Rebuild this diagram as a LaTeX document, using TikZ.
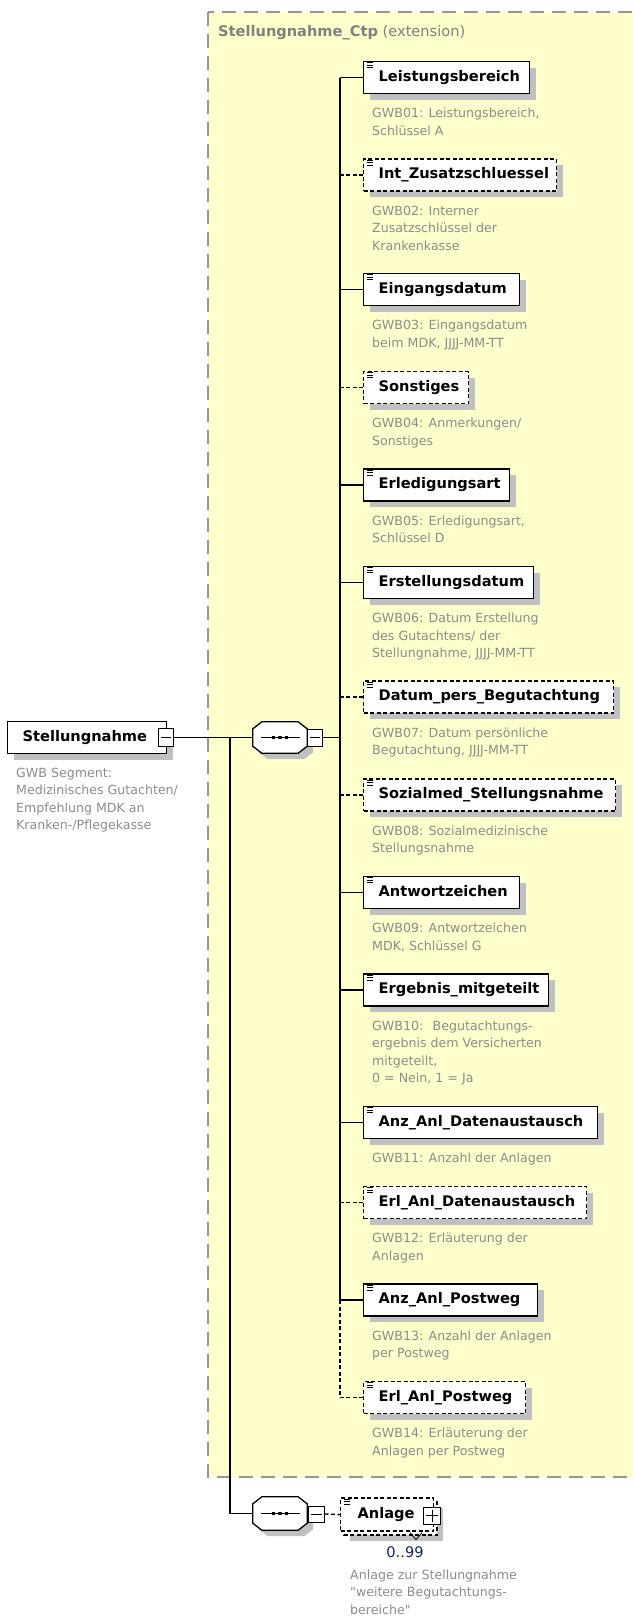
\documentclass[tikz,border=0pt]{standalone}
\usepackage{fontspec}
\setmainfont{DejaVu Sans}[Ligatures=TeXOff]
\usetikzlibrary{shadows}
\definecolor{ctyellow}{RGB}{255,255,204}
\definecolor{ctborder}{RGB}{150,150,150}
\definecolor{shadowgray}{RGB}{192,192,192}
\definecolor{descgray}{RGB}{140,140,140}
\definecolor{titlegray}{RGB}{128,128,128}
\definecolor{occblue}{RGB}{25,35,80}
\newcommand\elemfont{\fontsize{14.6}{17}\selectfont\bfseries}
\newcommand\descfont{\fontsize{12.6}{17.6}\selectfont}
\tikzset{
  conn/.style={line width=1.3pt, draw=black},
  optconn/.style={conn, dash pattern=on 4pt off 2.5pt},
  shadowed/.style={drop shadow={shadow xshift=6pt, shadow yshift=-6pt, fill=shadowgray, opacity=1}},
  plainbox/.style={draw=black, line width=1.3pt, fill=white, inner sep=0pt, minimum height=32pt, anchor=west, font=\elemfont},
  elembox/.style={plainbox, shadowed},
  optbox/.style={elembox, dash pattern=on 4pt off 2.5pt},
  iconline/.style={line width=0.8pt, draw=black},
  desc/.style={anchor=north west, inner sep=0pt, align=left, font=\descfont, text=descgray},
  pmbox/.style={draw=black, line width=1pt, fill=white, inner sep=0pt, minimum width=15pt, minimum height=17pt},
  pmsign/.style={line width=1pt, draw=black},
  seqbox/.style={inner sep=0pt, minimum width=54pt, minimum height=31pt},
  seqline/.style={draw=black, line width=1.3pt, fill=white},
  seqshadow/.style={fill=shadowgray},
  ctbox/.style={fill=ctyellow, draw=ctborder, line width=1.3pt, dash pattern=on 14pt off 8pt},
}
% octagon around a node: #1 node, #2 dx, #3 dy
\newcommand\octpath[3]{([shift={(#2+9,#3)}]#1.north west) -- ([shift={(#2-9,#3)}]#1.north east) -- ([shift={(#2,#3+7)}]#1.north east) -- ([shift={(#2,#3-7)}]#1.south east) -- ([shift={(#2-9,#3)}]#1.south east) -- ([shift={(#2+9,#3)}]#1.south west) -- ([shift={(#2,#3-7)}]#1.south west) -- ([shift={(#2,#3+7)}]#1.north west) -- cycle}
\newcommand\seqinside[1]{%
  \draw[line width=1pt] ([xshift=-19pt]#1.center) -- ([xshift=20pt]#1.center);
  \fill ([shift={(-8,-1.7)}]#1.center) rectangle ++(3.4,3.4);
  \fill ([shift={(-1.7,-1.7)}]#1.center) rectangle ++(3.4,3.4);
  \fill ([shift={(4.6,-1.7)}]#1.center) rectangle ++(3.4,3.4);
}
\newcommand\elemrow[6]{%
  \node[#4] (#1) at (363,#2) {\makebox[#3pt][l]{\hspace*{15pt}\vphantom{Lg}#5}};
  \draw[iconline] ([shift={(4,2)}]#1.north west) -- ++(6,0)
                  ([shift={(4,4.5)}]#1.north west) -- ++(6,0)
                  ([shift={(4,7)}]#1.north west) -- ++(6,0);
  \node[desc] (#1d) at (372,#2+27.5) {\strut #6};
}
\begin{document}
\begin{tikzpicture}[x=1pt,y=-1pt]
\useasboundingbox (0,0) rectangle (633,1617);
\clip (0,0) rectangle (633,1617);
% complex type area
\draw[ctbox] (208,12) rectangle (660,1477);
\node[anchor=west, inner sep=0pt, text=titlegray, font=\fontsize{14.6}{17}\selectfont] (title) at (218,33) {\textbf{Stellungnahme\_Ctp} (extension)};

% root element
\node[elembox] (root) at (7,737.5) {\makebox[159pt][l]{\hspace*{15pt}\vphantom{Lg}Stellungnahme}};
\node[pmbox, minimum height=18pt] (rootpm) at (165.5,737.5) {};
\draw[pmsign] ([xshift=3pt]rootpm.west) -- ([xshift=-3pt]rootpm.east);
\node[desc] (rootd) at (16,764.5) {\strut GWB Segment:\\Medizinisches Gutachten/\\Empfehlung MDK an\\Kranken-/Pflegekasse};

% sequence 1
\node[seqbox] (seq1) at (280,737.5) {};
\fill[seqshadow] \octpath{seq1}{6}{6};
\draw[seqline] \octpath{seq1}{0}{0};
\seqinside{seq1}
\node[pmbox] (seq1pm) at (315,737.5) {};
\draw[pmsign] ([xshift=3pt]seq1pm.west) -- ([xshift=-3pt]seq1pm.east);

% sequence 2
\node[seqbox, minimum height=33pt] (seq2) at (280,1513.5) {};
\fill[seqshadow] \octpath{seq2}{6}{6};
\draw[seqline] \octpath{seq2}{0}{0};
\seqinside{seq2}
\node[pmbox, minimum width=16pt, minimum height=16pt] (seq2pm) at (316,1514) {};
\draw[pmsign] ([xshift=3pt]seq2pm.west) -- ([xshift=-3pt]seq2pm.east);

% connectors root -> sequences
\coordinate (j1) at (230,737.5);
\coordinate (vj) at (340,737.5);
\draw[conn] (rootpm.east) -- (seq1.west);
\draw[conn] (j1) |- (seq2.west);
\draw[conn] (seq1pm.east) -- (vj);

% children
\elemrow{e1}{77.5}{166}{elembox}{Leistungsbereich}{GWB01: Leistungsbereich,\\Schlüssel A}
\elemrow{e2}{175}{193}{optbox}{Int\_Zusatzschluessel}{GWB02: Interner\\Zusatzschlüssel der\\Krankenkasse}
\elemrow{e3}{289.5}{156}{elembox}{Eingangsdatum}{GWB03: Eingangsdatum\\beim MDK, JJJJ-MM-TT}
\elemrow{e4}{387.5}{105}{optbox}{Sonstiges}{GWB04: Anmerkungen/\\Sonstiges}
\elemrow{e5}{485}{146}{elembox}{Erledigungsart}{GWB05: Erledigungsart,\\Schlüssel D}
\elemrow{e6}{582.5}{170}{elembox}{Erstellungsdatum}{GWB06: Datum Erstellung\\des Gutachtens/ der\\Stellungnahme, JJJJ-MM-TT}
\elemrow{e7}{697}{250}{optbox}{Datum\_pers\_Begutachtung}{GWB07: Datum persönliche\\Begutachtung, JJJJ-MM-TT}
\elemrow{e8}{795}{252}{optbox}{Sozialmed\_Stellungsnahme}{GWB08: Sozialmedizinische\\Stellungsnahme}
\elemrow{e9}{892.5}{156}{elembox}{Antwortzeichen}{GWB09: Antwortzeichen\\MDK, Schlüssel G}
\elemrow{e10}{990}{185}{elembox}{Ergebnis\_mitgeteilt}{GWB10:~ Begutachtungs-\\ergebnis dem Versicherten\\mitgeteilt,\\0 = Nein, 1 = Ja}
\elemrow{e11}{1122.5}{234}{elembox}{Anz\_Anl\_Datenaustausch}{GWB11: Anzahl der Anlagen}
\elemrow{e12}{1202.5}{223}{optbox}{Erl\_Anl\_Datenaustausch}{GWB12: Erläuterung der\\Anlagen}
\elemrow{e13}{1300}{174}{elembox}{Anz\_Anl\_Postweg}{GWB13: Anzahl der Anlagen\\per Postweg}
\elemrow{e14}{1397.5}{162}{optbox}{Erl\_Anl\_Postweg}{GWB14: Erläuterung der\\Anlagen per Postweg}

% child connectors
\draw[conn] (e1.west -| vj) -- (e13.west -| vj);
\draw[optconn] (e13.west -| vj) -- (e14.west -| vj);
\draw[conn] (e1.west) -- (e1.west -| vj);
\draw[optconn] (e2.west) -- (e2.west -| vj);
\draw[conn] (e3.west) -- (e3.west -| vj);
\draw[optconn] (e4.west) -- (e4.west -| vj);
\draw[conn] (e5.west) -- (e5.west -| vj);
\draw[conn] (e6.west) -- (e6.west -| vj);
\draw[optconn] (e7.west) -- (e7.west -| vj);
\draw[optconn] (e8.west) -- (e8.west -| vj);
\draw[conn] (e9.west) -- (e9.west -| vj);
\draw[conn] (e10.west) -- (e10.west -| vj);
\draw[conn] (e11.west) -- (e11.west -| vj);
\draw[optconn] (e12.west) -- (e12.west -| vj);
\draw[conn] (e13.west) -- (e13.west -| vj);
\draw[optconn] (e14.west) -- (e14.west -| vj);

% Anlage (repeating element)
\path[fill=white, draw=black, line width=1.3pt, dash pattern=on 4pt off 2.5pt, shadowed] (344,1502) rectangle (437,1535);
\node[plainbox, dash pattern=on 4pt off 2.5pt, minimum height=33pt] (anl) at (340,1514.5) {\makebox[93pt][l]{\hspace*{17pt}\vphantom{Lg}Anlage}};
\draw[iconline] ([shift={(4,2)}]anl.north west) -- ++(6,0)
                ([shift={(4,4.5)}]anl.north west) -- ++(6,0)
                ([shift={(4,7)}]anl.north west) -- ++(6,0);
\node[pmbox, minimum width=17pt, minimum height=17pt] (anlpm) at (432,1515.5) {};
\draw[pmsign] ([xshift=3pt]anlpm.west) -- ([xshift=-3pt]anlpm.east);
\draw[pmsign] ([yshift=-3pt]anlpm.north) -- ([yshift=3pt]anlpm.south);
\draw[line width=0.8pt] ([shift={(70,1)}]anl.south west) -- ++(6,7) -- ++(6,-7);
\draw[optconn] (seq2pm.east) -- (anl.west);
\node[inner sep=0pt, text=occblue, font=\fontsize{14.6}{17}\selectfont] (occ) at (405,1552) {0..99};
\node[desc] (anld) at (350,1566.5) {\strut Anlage zur Stellungnahme\\"weitere Begutachtungs-\\bereiche"};
\end{tikzpicture}
\end{document}
